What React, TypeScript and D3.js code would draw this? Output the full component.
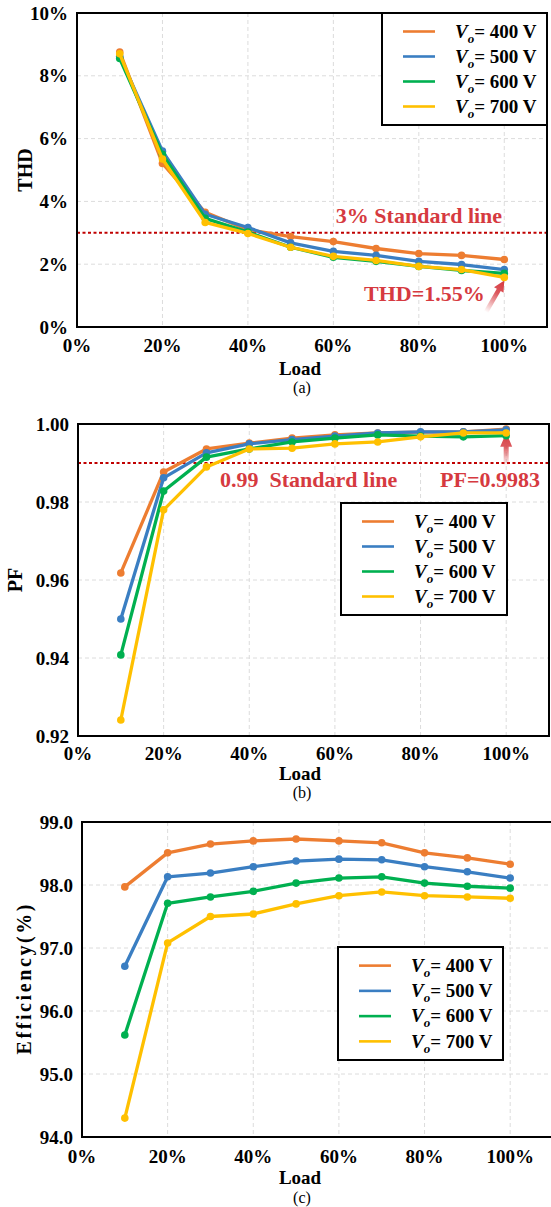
import React from "react";
import * as d3 from "d3";

const loads = [10, 20, 30, 40, 50, 60, 70, 80, 90, 100];
const seriesNames = ["400", "500", "600", "700"];
const colors = ["#ED7D31", "#3A7EC2", "#00B050", "#FFC000"];

const thd400 = [8.76, 5.21, 3.65, 3.10, 2.88, 2.72, 2.50, 2.34, 2.28, 2.15];
const thd500 = [8.62, 5.60, 3.59, 3.17, 2.68, 2.41, 2.28, 2.09, 1.99, 1.83];
const thd600 = [8.55, 5.50, 3.46, 3.02, 2.54, 2.22, 2.09, 1.93, 1.80, 1.71];
const thd700 = [8.70, 5.35, 3.33, 2.98, 2.54, 2.25, 2.12, 1.93, 1.83, 1.58];

const pf400 = [0.9618, 0.9877, 0.9936, 0.9951, 0.9964, 0.9972, 0.9977, 0.9979, 0.9980, 0.9987];
const pf500 = [0.9500, 0.9862, 0.9926, 0.9949, 0.9960, 0.9969, 0.9977, 0.9980, 0.9980, 0.9985];
const pf600 = [0.9408, 0.9828, 0.9915, 0.9936, 0.9954, 0.9964, 0.9972, 0.9969, 0.9967, 0.9970];
const pf700 = [0.9241, 0.9780, 0.9890, 0.9936, 0.9938, 0.9949, 0.9954, 0.9967, 0.9977, 0.9977];

const eff400 = [97.97, 98.51, 98.65, 98.70, 98.73, 98.70, 98.67, 98.51, 98.43, 98.33];
const eff500 = [96.71, 98.13, 98.19, 98.29, 98.38, 98.41, 98.40, 98.29, 98.21, 98.11];
const eff600 = [95.62, 97.71, 97.81, 97.90, 98.03, 98.11, 98.13, 98.03, 97.98, 97.95];
const eff700 = [94.30, 97.08, 97.50, 97.54, 97.70, 97.83, 97.89, 97.83, 97.81, 97.79];

const xTicks = [0, 20, 40, 60, 80, 100];
const thdTicks = [0, 2, 4, 6, 8, 10];
const pfTicks = [0.92, 0.94, 0.96, 0.98, 1.0];
const effTicks = [94, 95, 96, 97, 98, 99];

const FONT = "'Liberation Serif', 'Times New Roman', serif";
const RED_TEXT = "#D63A40";
const RED_LINE = "#C00000";

type PanelProps = {
  id: string;
  left: number; right: number; top: number; bottom: number;
  yDomain: [number, number];
  yTicks: number[];
  yFmt: (v: number) => string;
  series: number[][];
  yTitle: string;
  yTitleX: number;
  yTitleLen?: number;
  tickBaseline: number;
  loadBaseline: number;
  capBaseline: number;
  caption: string;
  legend: { x: number; y: number; w: number; h: number };
  children?: (x: d3.ScaleLinear<number, number>, y: d3.ScaleLinear<number, number>) => React.ReactNode;
};

function Panel(p: PanelProps) {
  const x = d3.scaleLinear().domain([0, 110]).range([p.left, p.right]);
  const y = d3.scaleLinear().domain(p.yDomain).range([p.bottom, p.top]);
  const line = d3.line<number>().x((_, i) => x(loads[i])).y((d) => y(d));
  const midY = (p.top + p.bottom) / 2;
  const rowH = (p.legend.h - 12) / 4;
  return (
    <g fontFamily={FONT}>
      {xTicks.filter((t) => t > 0).map((t) => (
        <line key={"gx" + t} x1={x(t)} x2={x(t)} y1={p.top} y2={p.bottom} stroke="#DCDCDC" strokeDasharray="4,3" strokeWidth={1} />
      ))}
      {p.yTicks.slice(1, -1).map((t) => (
        <line key={"gy" + t} x1={p.left} x2={p.right} y1={y(t)} y2={y(t)} stroke="#DCDCDC" strokeDasharray="4,3" strokeWidth={1} />
      ))}
      {p.yTicks.map((t) => (
        <text key={"yt" + t} x={p.left - 9} y={y(t)} dy="0.35em" textAnchor="end" fontSize={19} fontWeight="bold">{p.yFmt(t)}</text>
      ))}
      {xTicks.map((t) => (
        <text key={"xt" + t} x={x(t)} y={p.tickBaseline} textAnchor="middle" fontSize={19} fontWeight="bold">{t + "%"}</text>
      ))}
      <text x={300} y={p.loadBaseline} textAnchor="middle" fontSize={19} fontWeight="bold">Load</text>
      <text x={302} y={p.capBaseline} textAnchor="middle" fontSize={16}>{p.caption}</text>
      <text transform={`translate(${p.yTitleX},${midY}) rotate(-90)`} textAnchor="middle" dy="0.35em" fontSize={20} fontWeight="bold"
        {...(p.yTitleLen ? { textLength: p.yTitleLen, lengthAdjust: "spacing" } : {})}>{p.yTitle}</text>
      {p.children ? p.children(x, y) : null}
      {p.series.map((s, si) => (
        <g key={"s" + si}>
          <path d={line(s) || ""} fill="none" stroke={colors[si]} strokeWidth={3.3} strokeLinejoin="round" />
          {s.map((v, i) => (
            <circle key={i} cx={x(loads[i])} cy={y(v)} r={3.8} fill={colors[si]} />
          ))}
        </g>
      ))}
      <rect x={p.left} y={p.top} width={p.right - p.left} height={p.bottom - p.top} fill="none" stroke="#000" strokeWidth={2} />
      <rect x={p.legend.x} y={p.legend.y} width={p.legend.w} height={p.legend.h} fill="#fff" stroke="#000" strokeWidth={2} />
      {seriesNames.map((n, i) => {
        const ry = p.legend.y + 6 + rowH * (i + 0.5);
        return (
          <g key={"lg" + n}>
            <line x1={p.legend.x + 21} x2={p.legend.x + 53} y1={ry} y2={ry} stroke={colors[i]} strokeWidth={2.6} />
            <text x={p.legend.x + 73} y={ry} dy="0.33em" fontSize={19} fontWeight="bold">
              <tspan fontStyle="italic">V</tspan>
              <tspan fontStyle="italic" fontSize={13} dy={5}>o</tspan>
              <tspan dy={-5}>{"= " + n + " V"}</tspan>
            </text>
          </g>
        );
      })}
    </g>
  );
}

function Arrow({ id, x1, y1, x2, y2, w, head, headW }: { id: string; x1: number; y1: number; x2: number; y2: number; w: number; head: number; headW: number }) {
  const dx = x2 - x1, dy = y2 - y1;
  const L = Math.hypot(dx, dy);
  const ux = dx / L, uy = dy / L;
  const nx = -uy, ny = ux;
  const bx = x2 - ux * head, by = y2 - uy * head;
  const pts = [
    [x1 + nx * w / 2, y1 + ny * w / 2],
    [bx + nx * w / 2, by + ny * w / 2],
    [bx + nx * headW / 2, by + ny * headW / 2],
    [x2, y2],
    [bx - nx * headW / 2, by - ny * headW / 2],
    [bx - nx * w / 2, by - ny * w / 2],
    [x1 - nx * w / 2, y1 - ny * w / 2],
  ];
  return (
    <g>
      <defs>
        <linearGradient id={id} gradientUnits="userSpaceOnUse" x1={x1} y1={y1} x2={x2} y2={y2}>
          <stop offset="0" stopColor="#D63A40" stopOpacity={0} />
          <stop offset="0.6" stopColor="#D63A40" stopOpacity={0.85} />
          <stop offset="1" stopColor="#D63A40" stopOpacity={1} />
        </linearGradient>
      </defs>
      <polygon points={pts.map((q) => q.join(",")).join(" ")} fill={`url(#${id})`} />
    </g>
  );
}

export default function App() {
  return (
    <svg width={551} height={1207} style={{ position: "absolute", left: 0, top: 0, background: "#fff" }}>
      <rect width={551} height={1207} fill="#fff" />
      <Panel
        id="a" left={77} right={547} top={13} bottom={327}
        yDomain={[0, 10]} yTicks={thdTicks} yFmt={(v) => v + "%"}
        series={[thd400, thd500, thd600, thd700]}
        yTitle="THD" yTitleX={25}
        tickBaseline={352} loadBaseline={375} capBaseline={393} caption="(a)"
        legend={{ x: 382, y: 13, w: 165, h: 112 }}
      >
        {(x, y) => (
          <g>
            <line x1={77} x2={547} y1={y(3)} y2={y(3)} stroke={RED_LINE} strokeWidth={2} strokeDasharray="3,2.5" />
            <text x={419} y={223} textAnchor="middle" fontSize={22} fontWeight="bold" fill={RED_TEXT}>3% Standard line</text>
            <text x={364} y={301} fontSize={22} fontWeight="bold" fill={RED_TEXT}>THD=1.55%</text>
            <Arrow id="arrA" x1={486} y1={312} x2={x(100)} y2={y(thd700[9]) + 3} w={4.5} head={11} headW={11} />
          </g>
        )}
      </Panel>
      <Panel
        id="b" left={78} right={549} top={424} bottom={736}
        yDomain={[0.92, 1.0]} yTicks={pfTicks} yFmt={(v) => v.toFixed(2)}
        series={[pf400, pf500, pf600, pf700]}
        yTitle="PF" yTitleX={15}
        tickBaseline={760} loadBaseline={780} capBaseline={798} caption="(b)"
        legend={{ x: 341, y: 503, w: 166, h: 112 }}
      >
        {(x, y) => (
          <g>
            <line x1={78} x2={549} y1={y(0.99)} y2={y(0.99)} stroke={RED_LINE} strokeWidth={2} strokeDasharray="3,2.5" />
            <text x={220} y={487} fontSize={22} fontWeight="bold" fill={RED_TEXT} xmlSpace="preserve">{"0.99  Standard line"}</text>
            <text x={540} y={487} textAnchor="end" fontSize={22} fontWeight="bold" fill={RED_TEXT}>PF=0.9983</text>
            <Arrow id="arrB" x1={x(100)} y1={466} x2={x(100)} y2={y(0.9983) + 2} w={5} head={14} headW={12} />
          </g>
        )}
      </Panel>
      <Panel
        id="c" left={82} right={553} top={822} bottom={1137}
        yDomain={[94, 99]} yTicks={effTicks} yFmt={(v) => v.toFixed(1)}
        series={[eff400, eff500, eff600, eff700]}
        yTitle="Efficiency(%)" yTitleX={24} yTitleLen={150}
        tickBaseline={1163} loadBaseline={1184} capBaseline={1203} caption="(c)"
        legend={{ x: 338, y: 947, w: 165, h: 113 }}
      />
    </svg>
  );
}
